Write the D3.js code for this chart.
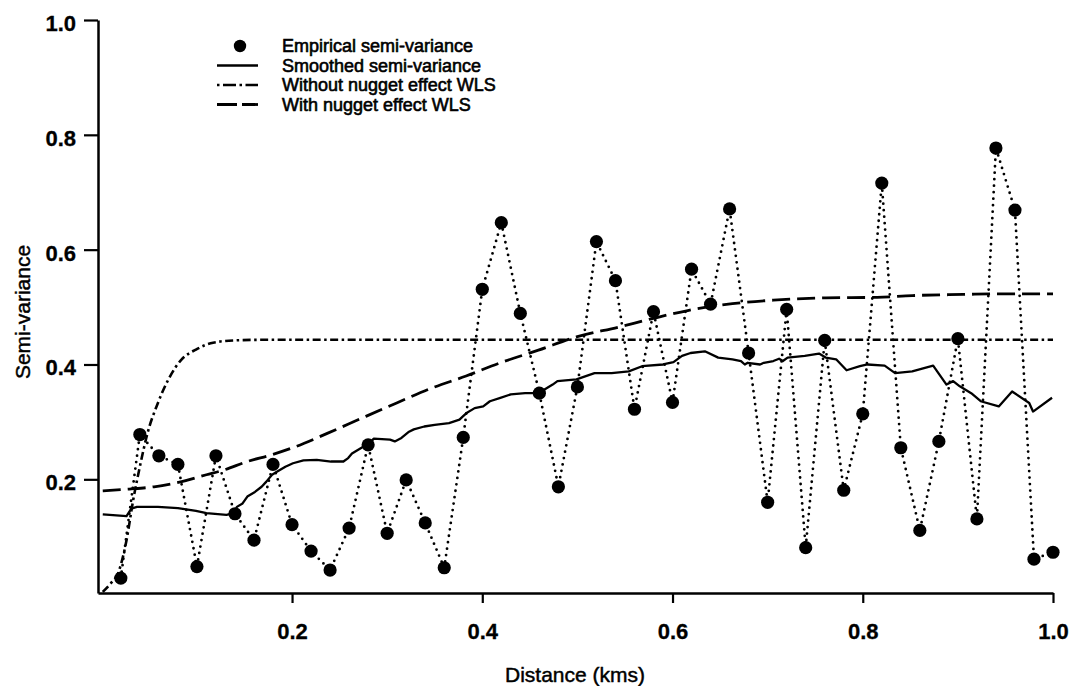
<!DOCTYPE html>
<html>
<head>
<meta charset="utf-8">
<script src="https://cdn.jsdelivr.net/npm/d3@7"></script>
<style>
  html, body { margin: 0; padding: 0; background: #fff; }
  svg { display: block; }
  text { font-family: "Liberation Sans", Arial, Helvetica, sans-serif; fill: #000; }
</style>
</head>
<body>
<svg id="chart" width="1073" height="686"></svg>
<script>
// ---- data ----
const distances = [0.02,0.04,0.06,0.08,0.10,0.12,0.14,0.16,0.18,0.20,
                   0.22,0.24,0.26,0.28,0.30,0.32,0.34,0.36,0.38,0.40,
                   0.42,0.44,0.46,0.48,0.50,0.52,0.54,0.56,0.58,0.60,
                   0.62,0.64,0.66,0.68,0.70,0.72,0.74,0.76,0.78,0.80,
                   0.82,0.84,0.86,0.88,0.90,0.92,0.94,0.96,0.98,1.00];
const empirical = [0.028,0.278,0.241,0.226,0.048,0.241,0.140,0.094,0.226,0.121,
                   0.075,0.042,0.115,0.260,0.106,0.199,0.124,0.046,0.273,0.531,
                   0.647,0.489,0.350,0.187,0.361,0.614,0.546,0.322,0.492,0.334,
                   0.566,0.505,0.671,0.420,0.160,0.496,0.081,0.442,0.181,0.314,
                   0.716,0.255,0.111,0.266,0.445,0.131,0.777,0.669,0.061,0.073];

const smoothX = [0.001,0.026,0.031,0.037,0.059,0.080,0.099,0.110,0.131,0.139,0.142,0.148,0.153,0.161,0.168,0.173,0.179,0.184,0.193,0.201,
                 0.212,0.226,0.241,0.254,0.259,0.263,0.270,0.281,0.286,0.303,0.308,0.315,0.323,0.328,0.339,0.350,0.365,0.376,0.383,0.392,
                 0.401,0.408,0.419,0.430,0.445,0.459,0.474,0.479,0.499,0.518,0.536,0.554,0.568,0.590,0.601,0.610,0.619,0.634,0.648,0.663,
                 0.672,0.676,0.679,0.692,0.696,0.706,0.712,0.716,0.721,0.739,0.754,0.761,0.772,0.783,0.797,0.805,0.823,0.834,0.852,0.874,
                 0.888,0.895,0.902,0.914,0.924,0.943,0.957,0.975,0.979,0.999];
const smoothY = [0.139,0.136,0.149,0.152,0.152,0.150,0.145,0.141,0.138,0.141,0.152,0.158,0.170,0.178,0.187,0.196,0.208,0.213,0.222,0.228,
                 0.233,0.234,0.231,0.231,0.237,0.245,0.252,0.263,0.271,0.269,0.266,0.272,0.283,0.287,0.292,0.295,0.298,0.304,0.315,0.324,
                 0.327,0.336,0.342,0.348,0.350,0.350,0.365,0.371,0.374,0.385,0.385,0.388,0.397,0.400,0.404,0.415,0.420,0.423,0.412,0.409,
                 0.406,0.400,0.403,0.400,0.403,0.406,0.410,0.406,0.412,0.415,0.419,0.412,0.409,0.390,0.397,0.400,0.398,0.385,0.388,0.398,
                 0.365,0.371,0.362,0.350,0.336,0.327,0.353,0.333,0.318,0.342];

const noNuggetX = [0.001,0.010,0.017,0.026,0.033,0.040,0.048,0.059,0.070,0.084,0.099,0.117,0.140,0.170,0.250,0.400,0.600,0.800,1.000];
const noNuggetY = [0.004,0.020,0.036,0.094,0.164,0.222,0.280,0.333,0.374,0.409,0.426,0.438,0.442,0.443,0.443,0.443,0.443,0.443,0.443];

const nuggetX = [0.001,0.029,0.055,0.084,0.110,0.128,0.153,0.179,0.204,0.237,0.274,0.310,0.347,0.383,0.419,0.459,0.499,0.543,0.579,0.616,0.663,0.706,0.761,0.815,0.852,0.906,0.943,1.000];
const nuggetY = [0.180,0.183,0.187,0.196,0.208,0.216,0.231,0.243,0.257,0.280,0.307,0.333,0.359,0.380,0.403,0.425,0.448,0.465,0.480,0.494,0.506,0.512,0.516,0.517,0.520,0.522,0.523,0.523];

const xTicks = [0.2,0.4,0.6,0.8,1.0];
const yTicks = [0.2,0.4,0.6,0.8,1.0];
const legendLabels = ["Empirical semi-variance","Smoothed semi-variance","Without nugget effect WLS","With nugget effect WLS"];
const xTitle = "Distance (kms)";
const yTitle = "Semi-variance";

// ---- layout ----
const svg = d3.select("#chart");
const x = d3.scaleLinear().domain([-0.004, 1.0]).range([98, 1053]);
const y = d3.scaleLinear().domain([0.002, 1.0]).range([593, 20]);

// axes
const yAxis = d3.axisLeft(y).tickValues(yTicks).tickFormat(d3.format(".1f")).tickSize(14).tickSizeOuter(0).tickPadding(8);
const xAxis = d3.axisBottom(x).tickValues(xTicks).tickFormat(d3.format(".1f")).tickSize(10).tickSizeOuter(0).tickPadding(20);

const gy = svg.append("g").attr("transform", `translate(${x.range()[0]},0)`).call(yAxis);
const gx = svg.append("g").attr("transform", `translate(0,${y.range()[0]})`).call(xAxis);
[gy, gx].forEach(g => {
  g.select(".domain").attr("stroke", "#000").attr("stroke-width", 2.5);
  g.selectAll(".tick line").attr("stroke", "#000").attr("stroke-width", 2.2);
  g.selectAll(".tick text").attr("font-size", 22).attr("font-weight", "bold")
    .attr("stroke", "#000").attr("stroke-width", 0.3).attr("fill", "#000");
});
gy.selectAll(".tick text").attr("dy", "0.47em");

// axis titles
svg.append("text").attr("x", 575).attr("y", 682).attr("text-anchor", "middle")
  .attr("font-size", 21).attr("stroke", "#000").attr("stroke-width", 0.45).text(xTitle);
svg.append("text").attr("transform", "translate(30,312) rotate(-90)").attr("text-anchor", "middle")
  .attr("font-size", 21).attr("stroke", "#000").attr("stroke-width", 0.45).text(yTitle);

const plot = svg.append("g");
const pts = distances.map((d, i) => [d, empirical[i]]);

// dotted connecting line
plot.append("path")
  .attr("d", d3.line().x(d => x(d[0])).y(d => y(d[1]))(pts))
  .attr("fill", "none").attr("stroke", "#000").attr("stroke-width", 2.8)
  .attr("stroke-linecap", "round").attr("stroke-dasharray", "0,6.5");

// smoothed semi-variance
plot.append("path")
  .attr("d", d3.line().x(d => x(d[0])).y(d => y(d[1]))(smoothX.map((v, i) => [v, smoothY[i]])))
  .attr("fill", "none").attr("stroke", "#000").attr("stroke-width", 2.3).attr("stroke-linejoin", "round");

// without nugget (dash-dot)
plot.append("path")
  .attr("d", d3.line().curve(d3.curveMonotoneX).x(d => x(d[0])).y(d => y(d[1]))(noNuggetX.map((v, i) => [v, noNuggetY[i]])))
  .attr("fill", "none").attr("stroke", "#000").attr("stroke-width", 2.6).attr("stroke-dasharray", "8,3.5,2.5,3.5");

// with nugget (dashed)
plot.append("path")
  .attr("d", d3.line().curve(d3.curveMonotoneX).x(d => x(d[0])).y(d => y(d[1]))(nuggetX.map((v, i) => [v, nuggetY[i]])))
  .attr("fill", "none").attr("stroke", "#000").attr("stroke-width", 2.8).attr("stroke-dasharray", "18,7");

// empirical points
plot.selectAll("circle.emp").data(pts).enter().append("circle")
  .attr("class", "emp").attr("cx", d => x(d[0])).attr("cy", d => y(d[1])).attr("r", 6.6).attr("fill", "#000");

// legend
const lg = svg.append("g");
const rowY = [46, 65.5, 85, 104.5];
const lx0 = 217, lx1 = 258, ltx = 282;
lg.append("circle").attr("cx", 240).attr("cy", rowY[0]).attr("r", 6.2).attr("fill", "#000");
lg.append("line").attr("x1", lx0).attr("x2", lx1).attr("y1", rowY[1]).attr("y2", rowY[1])
  .attr("stroke", "#000").attr("stroke-width", 2.3);
lg.append("line").attr("x1", lx0).attr("x2", lx1).attr("y1", rowY[2]).attr("y2", rowY[2])
  .attr("stroke", "#000").attr("stroke-width", 2.6).attr("stroke-dasharray", "2.5,3.5,13,3.5");
lg.append("line").attr("x1", lx0).attr("x2", lx1).attr("y1", rowY[3]).attr("y2", rowY[3])
  .attr("stroke", "#000").attr("stroke-width", 2.8).attr("stroke-dasharray", "20,5");
lg.selectAll("text.leg").data(legendLabels).enter().append("text")
  .attr("class", "leg").attr("x", ltx).attr("y", (d, i) => rowY[i]).attr("dy", "0.36em")
  .attr("font-size", 18).attr("stroke", "#000").attr("stroke-width", 0.6).text(d => d);
</script>
</body>
</html>
